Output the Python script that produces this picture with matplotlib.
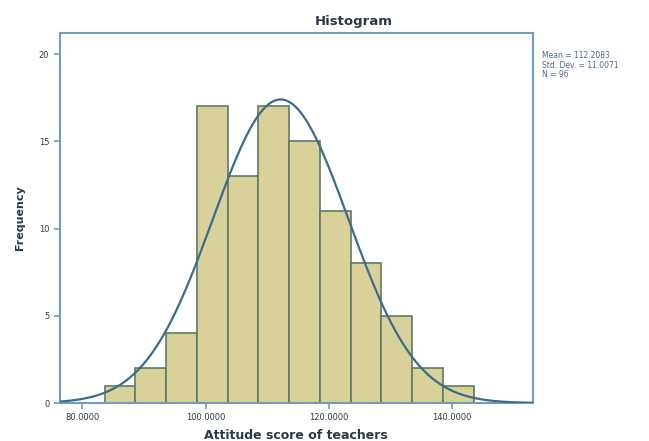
import numpy as np
import matplotlib
matplotlib.use("Agg")
import matplotlib.pyplot as plt

# frequencies per bin (bin width 5)
bin_start = 83.6
bin_width = 5
counts = [1, 2, 4, 17, 13, 17, 15, 11, 8, 5, 2, 1]

mean = 112.2083
sd = 11.0071
n = 96

x_ticks = [80, 100, 120, 140]
y_ticks = [0, 5, 10, 15, 20]

edge_blue = "#6f9cbf"
text_col = "#2b3a4a"

fig = plt.figure(figsize=(6.49, 4.41), dpi=100)
ax = fig.add_axes([0.092, 0.086, 0.729, 0.839])

lefts = [bin_start + i * bin_width for i in range(len(counts))]
ax.bar(lefts, counts, width=bin_width, align="edge",
       color="#d8d29a", edgecolor="#5f7a66", linewidth=1.2, zorder=2)

# normal curve
xs = np.linspace(76.3, 153.2, 400)
ys = n * bin_width / (sd * np.sqrt(2 * np.pi)) * np.exp(-0.5 * ((xs - mean) / sd) ** 2)
ax.plot(xs, ys, color="#3e6b8a", linewidth=1.6, zorder=3)

ax.set_xlim(76.3, 153.2)
ax.set_ylim(0, 21.2)
ax.set_xticks(x_ticks)
ax.set_xticklabels(["%.4f" % v for v in x_ticks], fontsize=6, color=text_col)
ax.set_yticks(y_ticks)
ax.set_yticklabels([str(v) for v in y_ticks], fontsize=6, color=text_col)
ax.tick_params(colors=edge_blue, length=4, width=1.2, labelcolor=text_col)
for s in ax.spines.values():
    s.set_color(edge_blue)
    s.set_linewidth(1.5)

ax.set_xlabel("Attitude score of teachers", fontsize=9, fontweight="bold",
              color=text_col, labelpad=5)
ax.set_ylabel("Frequency", fontsize=8, fontweight="bold", color=text_col,
              labelpad=10)

fig.text(354 / 649, 1 - 21 / 441, "Histogram", ha="center", va="center",
         fontsize=9.5, fontweight="bold", color=text_col)

fig.text(542 / 649, 1 - 51 / 441,
         "Mean = %.4f\nStd. Dev. = %.4f\nN = %d" % (mean, sd, n),
         ha="left", va="top", fontsize=5.5, color="#4a6a90", linespacing=1.1)

fig.savefig("out.png", dpi=100)
